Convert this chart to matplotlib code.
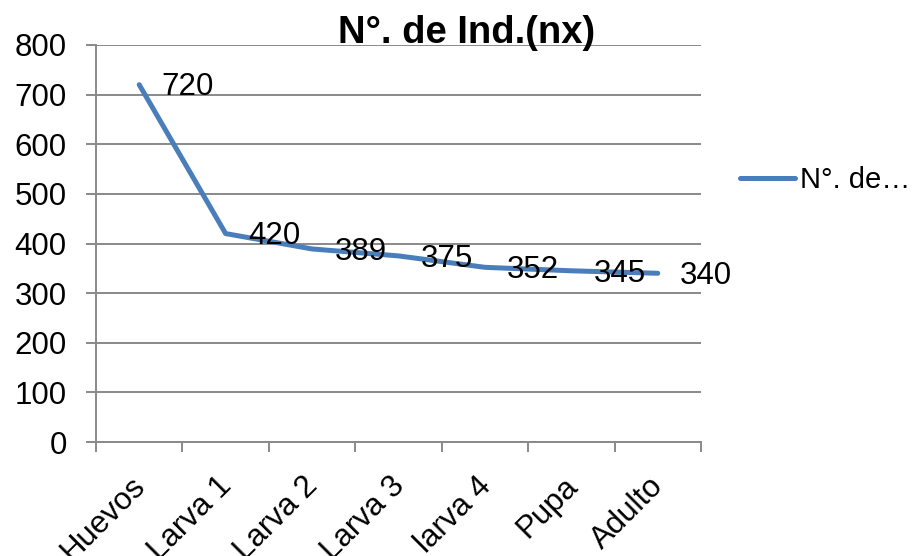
import matplotlib
matplotlib.use("Agg")
import matplotlib.pyplot as plt
from matplotlib.transforms import ScaledTranslation

categories = ["Huevos", "Larva 1", "Larva 2", "Larva 3", "larva 4", "Pupa", "Adulto"]
values = [720, 420, 389, 375, 352, 345, 340]
series_name = "N°. de…"
title = "N°. de Ind.(nx)"
yticks = [0, 100, 200, 300, 400, 500, 600, 700, 800]

plt.rcParams['font.family'] = ['Liberation Sans', 'DejaVu Sans']

fig = plt.figure(figsize=(9.24, 5.56), dpi=100)
ax = fig.add_axes([96/924, 1 - 442/556, (701-96)/924, (442-45)/556])

FS = 22.5
x = list(range(len(categories)))
line_color = "#4A7EBB"
gray = '#898989'
ax.plot(x, values, color=line_color, lw=3.6, solid_capstyle='round',
        solid_joinstyle='round', label=series_name, zorder=3)

for xi, v in zip(x, values):
    ax.annotate(str(v), (xi, v), xytext=(16, -2), textcoords='offset points',
                ha='left', va='center', fontsize=FS, color='black', zorder=4)

ax.set_xlim(-0.5, len(categories) - 0.5)
ax.set_ylim(0, 800)
ax.set_yticks(yticks)
ax.set_yticklabels([str(t) for t in yticks], fontsize=FS)
ax.yaxis.grid(True, color=gray, lw=1.4)
ax.set_axisbelow(True)

ax.set_xticks([i - 0.5 for i in range(len(categories) + 1)])
ax.set_xticklabels([])
ax.set_xticks(x, minor=True)
ax.set_xticklabels(categories, minor=True, fontsize=FS, rotation=45,
                   ha='right', va='top', rotation_mode='anchor')
ax.tick_params(axis='x', which='minor', length=0, pad=21)
ax.tick_params(axis='x', which='major', length=7, color=gray, width=1.4)
ax.tick_params(axis='y', length=7, color=gray, width=1.4, pad=14)
for lab in ax.get_xticklabels(minor=True):
    lab.set_transform(lab.get_transform() + ScaledTranslation(-9/100, 0, fig.dpi_scale_trans))

for s in ['top', 'right']:
    ax.spines[s].set_visible(False)
for s in ['left', 'bottom']:
    ax.spines[s].set_color(gray)
    ax.spines[s].set_linewidth(1.4)

fig.text(467/924, 1 - 43/556, title, fontsize=27.5, fontweight='bold',
         ha='center', va='baseline')

leg = ax.legend(loc='center left', bbox_to_anchor=(740/924, 1 - 180/556),
                bbox_transform=fig.transFigure, frameon=False, fontsize=21,
                handlelength=1.9, handletextpad=0.15, borderaxespad=0, borderpad=0)

fig.savefig("out.png", dpi=100)
